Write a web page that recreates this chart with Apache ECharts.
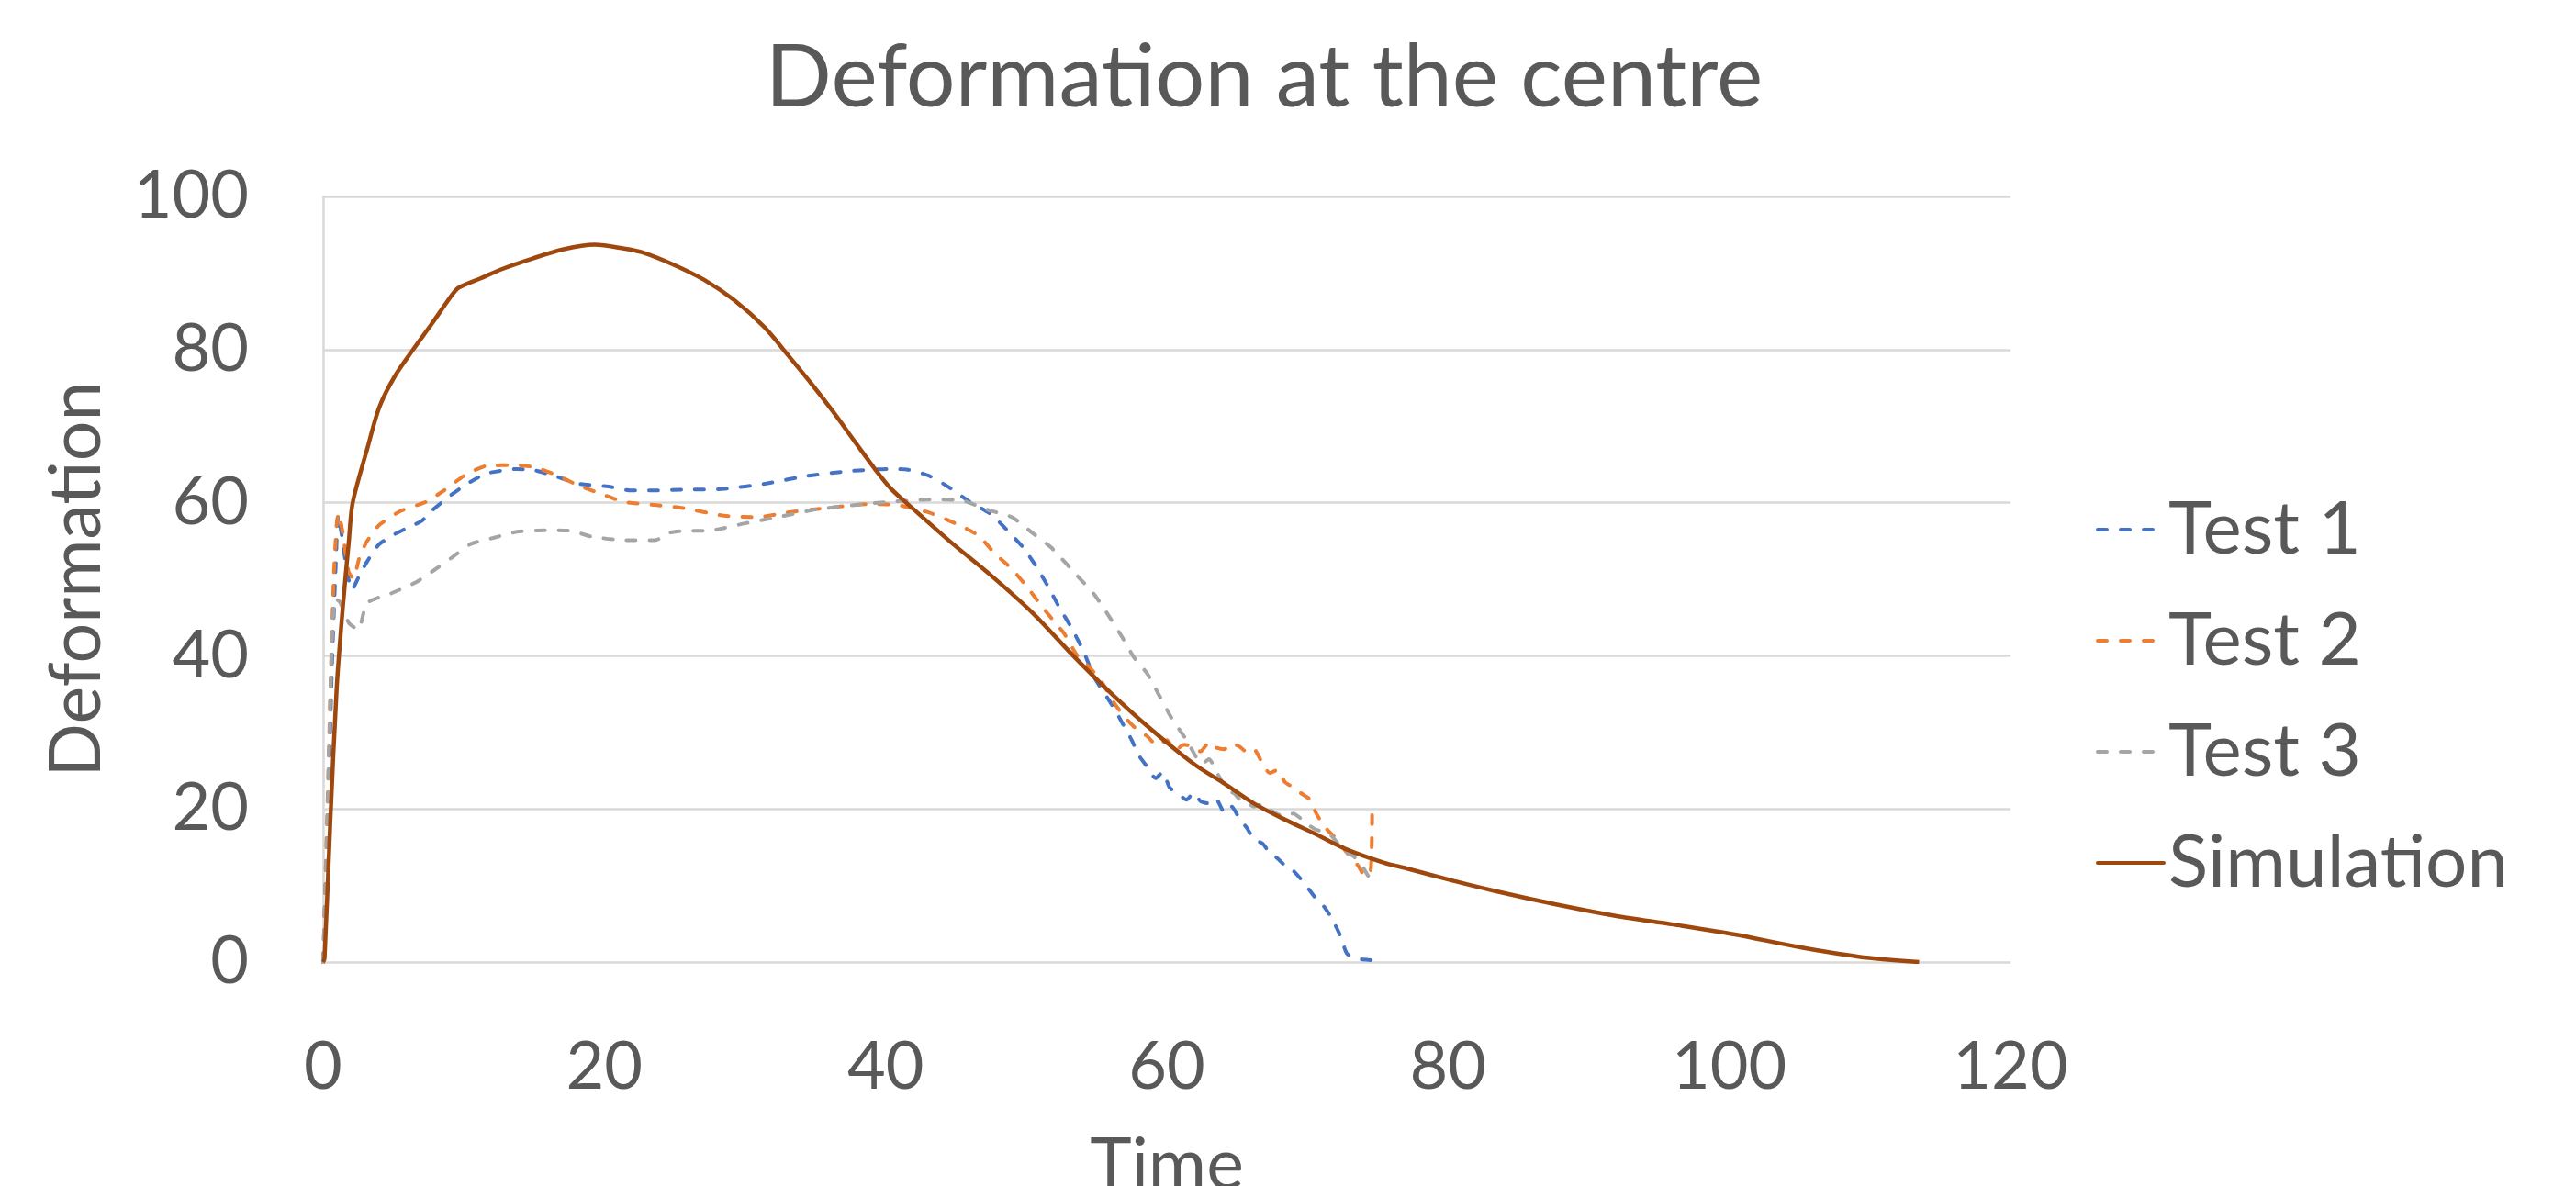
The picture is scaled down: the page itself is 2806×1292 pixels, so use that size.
<!DOCTYPE html>
<html>
<head>
<meta charset="utf-8">
<script src="https://cdn.jsdelivr.net/npm/echarts@6/dist/echarts.min.js"></script>
<style>
html,body{margin:0;padding:0;background:#fff;}
#chart{width:2806px;height:1292px;}
</style>
</head>
<body>
<div id="chart"></div>
<script>
const titleText = 'Deformation at the centre';
const xName = 'Time';
const yName = 'Deformation';
const seriesNames = ['Test 1', 'Test 2', 'Test 3', 'Simulation'];

const test1 = [[0,0],[0.35,20],[0.65,40],[0.9,52],[1.07,58.4],[1.3,56],[1.7,51],[2.05,48.6],[2.5,50.2],[2.9,51.6],[3.5,53.4],[4.0,54.6],[5.0,55.8],[6.2,56.9],[7.0,57.6],[7.7,58.9],[8.8,60.6],[10.1,62.3],[11.6,63.8],[13.8,64.4],[15.1,64.2],[16.6,63.4],[18.1,62.5],[20.3,62.1],[21.85,61.6],[23.6,61.6],[25.6,61.7],[28.5,61.8],[31.5,62.5],[34.4,63.5],[37.3,64.1],[40.2,64.4],[41.6,64.3],[43.1,63.5],[44.6,61.9],[46.0,60.1],[47.5,58.5],[48.6,56.5],[49.8,54.1],[50.7,51.7],[51.6,48.9],[52.3,46.5],[53.2,43.7],[54.1,40.5],[54.8,37.3],[55.6,35],[56.3,33],[56.9,31],[57.5,29],[58.0,27],[58.6,25.5],[59.2,24],[59.7,24.8],[60.2,22.8],[60.8,22.0],[61.4,21.2],[61.9,22.1],[62.4,21.0],[63.0,20.7],[63.5,21.3],[64.1,19.5],[64.6,20.3],[65.2,18.6],[65.7,17.5],[66.2,16.0],[66.8,15.5],[67.3,14.3],[67.9,13.5],[68.4,12.6],[69.0,11.9],[69.5,10.9],[70.1,9.5],[70.6,8.3],[71.2,7.2],[71.7,5.8],[72.3,3.6],[72.8,1.1],[73.3,0.6],[73.6,0.4],[74.2,0.3],[74.8,0.2]];

const test2 = [[0,0],[0.3,20],[0.55,38],[0.75,50],[0.95,57],[1.1,58.6],[1.4,56],[1.8,51],[2.15,50.1],[2.6,53],[3.13,55.0],[4.0,57.1],[5.5,58.9],[7.3,60.1],[8.6,61.6],[10.1,63.6],[11.6,64.8],[13.8,64.9],[15.1,64.6],[16.6,63.6],[18.1,62.3],[19.7,61.2],[21.4,60.1],[23.6,59.7],[25.6,59.3],[28.5,58.3],[30.9,58.1],[32.9,58.7],[35.8,59.3],[38.7,59.8],[40.8,59.7],[43.1,58.7],[45.2,57.1],[46.6,55.7],[47.8,53.3],[49.0,51.3],[50.1,48.9],[51.1,46.5],[51.8,44.9],[52.7,42.9],[53.6,40.1],[54.5,38.5],[55.4,36.5],[56.2,34],[57.0,32],[57.8,30.5],[58.6,29.5],[59.3,28.3],[60.0,29],[60.6,27.6],[61.2,28.4],[61.9,28.1],[62.4,27.5],[63.0,28.7],[63.5,28.0],[64.1,27.8],[64.6,28.6],[65.2,28.1],[65.7,27.4],[66.2,27.8],[66.7,26.3],[67.3,24.7],[67.9,25.1],[68.4,23.5],[69.0,22.8],[69.5,22.1],[70.2,21.2],[70.6,19.5],[71.2,17.7],[72.1,16.0],[72.8,14.3],[73.6,12.6],[74.1,11.2],[74.5,12],[74.6,19.2]];

const test3 = [[0,0],[0.25,15],[0.45,30],[0.63,42],[0.85,47.5],[1.2,47],[1.83,44.3],[2.5,43.4],[3.13,46.9],[4.9,48.2],[6.6,49.6],[7.9,51.2],[9.2,52.9],[10.5,54.6],[12.1,55.4],[13.8,56.2],[16.0,56.4],[17.7,56.3],[19.0,55.6],[21.4,55.1],[23.6,55.1],[24.7,56.1],[25.6,56.3],[27.7,56.4],[30.0,57.3],[32.3,58.1],[35.0,59.1],[37.9,59.7],[40.2,60.1],[43.1,60.4],[45.4,60.3],[47.2,59.1],[49.0,58.1],[50.4,56.1],[51.8,54.1],[53.6,50.5],[54.8,48.1],[55.7,45.7],[56.8,42.5],[57.7,39.7],[58.6,37.7],[59.2,35.7],[60.3,32],[61.4,29],[62.5,25.9],[63.0,26.5],[63.6,24.6],[64.3,22.5],[64.8,22.0],[65.2,21.2],[65.7,20.8],[66.2,20.3],[66.8,20.6],[67.3,19.9],[67.9,19.3],[68.4,19.0],[69.0,19.4],[69.5,18.8],[70.0,18.0],[70.6,17.3],[71.2,17.0],[71.7,16.5],[72.3,15.2],[72.8,14.3],[73.3,13.8],[73.6,13.0],[74.0,12.2],[74.3,11.3],[74.8,10.5]];

const simulation = [[0,0],[0.1,0.5],[0.5,18],[0.96,35.7],[1.4,46.4],[1.83,55],[2.1,60],[3.13,67],[4.0,72.5],[5.09,76.5],[6.4,80],[7.7,83.3],[9.23,87.3],[9.66,88.1],[11.2,89.3],[12.7,90.5],[14.9,91.9],[17.1,93.1],[19.3,93.7],[21.4,93.2],[22.7,92.7],[24.9,91.1],[27.1,89.1],[29.2,86.5],[31.4,82.9],[33.0,79.4],[34.7,75.6],[36.3,71.8],[37.8,68.0],[39.2,64.5],[40.4,61.8],[41.65,59.7],[44.6,54.9],[47.5,50.5],[50.4,45.7],[53.3,40.1],[55.7,35.7],[58.5,31],[61.9,25.9],[64.1,23.3],[66.2,20.7],[68.4,18.6],[70.6,16.7],[72.8,14.7],[75.4,13.0],[77.1,12.2],[80.4,10.6],[83.3,9.3],[88.0,7.4],[92,6.0],[96.0,4.9],[100.4,3.6],[104.8,2.0],[109.2,0.7],[113.5,0]];

const colors = ['#4472C4', '#ED7D31', '#A5A5A5', '#9E480E'];
const FONT = 'Lato';
const TXT = '#595959';

const chart = echarts.init(document.getElementById('chart'), null, {renderer: 'canvas'});

function testSeries(name, data, color) {
  return {
    name: name, type: 'line', data: data, symbol: 'none', smooth: 0.2,
    lineStyle: {color: color, width: 4, type: [10, 15], cap: 'round'},
    itemStyle: {color: color}
  };
}

chart.setOption({
  animation: false,
  backgroundColor: '#ffffff',
  title: {
    text: titleText, left: 1372, top: 33, textAlign: 'center',
    textStyle: {fontFamily: FONT, fontSize: 95, fontWeight: 'normal', color: TXT}
  },
  grid: {left: 352, right: 616, top: 214, bottom: 244, containLabel: false, outerBoundsMode: 'none'},
  legend: {
    orient: 'vertical', left: 2278, top: 532, itemWidth: 72, itemHeight: 20, itemGap: 41,
    data: seriesNames,
    itemStyle: {opacity: 0},
    lineStyle: {width: 4, cap: 'round'},
    textStyle: {fontFamily: FONT, fontSize: 80, color: TXT}
  },
  xAxis: {
    type: 'value', min: 0, max: 120, interval: 20,
    name: xName, nameLocation: 'middle', nameGap: 184,
    nameTextStyle: {fontFamily: FONT, fontSize: 77, color: TXT},
    axisLine: {show: false}, axisTick: {show: false},
    splitLine: {show: false},
    axisLabel: {fontFamily: FONT, fontSize: 72, color: TXT, margin: 79}
  },
  yAxis: {
    type: 'value', min: 0, max: 100, interval: 20,
    name: yName, nameLocation: 'middle', nameGap: 229, nameRotate: 90,
    nameTextStyle: {fontFamily: FONT, fontSize: 77, color: TXT},
    axisLine: {show: true, lineStyle: {color: '#D9D9D9', width: 2.5}},
    axisTick: {show: false},
    splitLine: {show: true, lineStyle: {color: '#D9D9D9', width: 2.5}},
    axisLabel: {fontFamily: FONT, fontSize: 72, color: TXT, margin: 81}
  },
  series: [
    testSeries(seriesNames[0], test1, colors[0]),
    testSeries(seriesNames[1], test2, colors[1]),
    testSeries(seriesNames[2], test3, colors[2]),
    {
      name: seriesNames[3], type: 'line', data: simulation, symbol: 'none', smooth: 0.3,
      lineStyle: {color: colors[3], width: 4.5, type: 'solid'},
      itemStyle: {color: colors[3]}
    }
  ]
});
</script>
</body>
</html>
